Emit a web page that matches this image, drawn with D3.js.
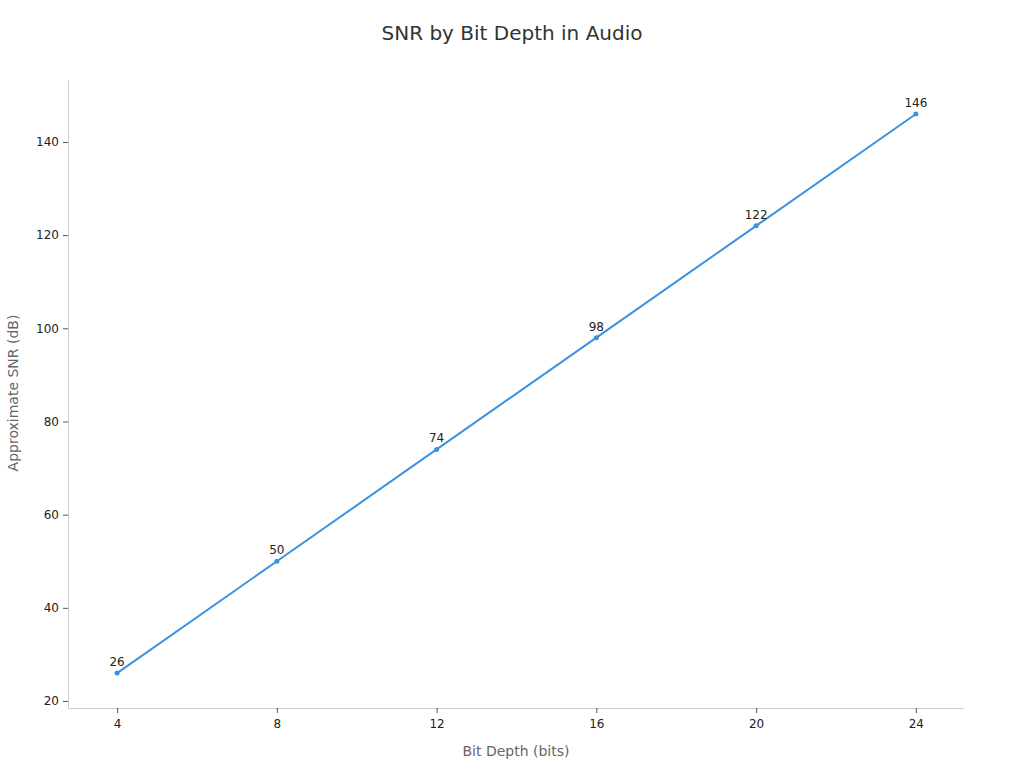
<!DOCTYPE html>
<html>
<head>
<meta charset="utf-8">
<script src="https://cdn.jsdelivr.net/npm/d3@7"></script>
<style>
  body { margin: 0; background: #fff; font-family: "DejaVu Sans", sans-serif; }
</style>
</head>
<body>
<div id="chart"></div>
<script>
"use strict";

// Values.
let bitDepths = [4, 8, 12, 16, 20, 24];
let snrValues = [26, 50, 74, 98, 122, 146];
let xTicks = [4, 8, 12, 16, 20, 24];
let yTicks = [20, 40, 60, 80, 100, 120, 140];

let width = 1024;
let height = 768;
let lineColour = "#3a93e2";

let svg = d3.select("#chart")
  .append("svg")
  .attr("width", width)
  .attr("height", height);

// Plot box edges, the domains carry a bit of padding like the original.
let x = d3.scaleLinear().domain([2.77, 25.18]).range([68, 963]);
let y = d3.scaleLinear().domain([18.5, 153.3]).range([708, 80]);

svg.append("text")
  .attr("x", 512)
  .attr("y", 40)
  .attr("text-anchor", "middle")
  .style("font-size", "20px")
  .style("fill", "#333")
  .text("SNR by Bit Depth in Audio");

// Axes
let xAxis = svg.append("g")
  .attr("transform", "translate(0,708)")
  .call(d3.axisBottom(x).tickValues(xTicks).tickSize(5).tickPadding(6).tickSizeOuter(0));

let yAxis = svg.append("g")
  .attr("transform", "translate(68,0)")
  .call(d3.axisLeft(y).tickValues(yTicks).tickSize(5).tickPadding(4).tickSizeOuter(0));

[xAxis, yAxis].forEach(g => {
  g.select(".domain").attr("stroke", "#ccc");
  g.selectAll(".tick line").attr("stroke", "#555");
  g.selectAll(".tick text")
    .style("font-size", "12px")
    .style("font-family", "DejaVu Sans, sans-serif")
    .attr("fill", "#222");
});

svg.append("text")
  .attr("x", 516)
  .attr("y", 756)
  .attr("text-anchor", "middle")
  .style("font-size", "14px")
  .style("fill", "#666")
  .text("Bit Depth (bits)");

svg.append("text")
  .attr("transform", "translate(18,393) rotate(-90)")
  .attr("text-anchor", "middle")
  .style("font-size", "14px")
  .style("fill", "#666")
  .text("Approximate SNR (dB)");

let points = bitDepths.map((b, i) => ({ bits: b, snr: snrValues[i] }));

let line = d3.line()
  .x(d => x(d.bits))
  .y(d => y(d.snr));

svg.append("path")
  .datum(points)
  .attr("d", line)
  .attr("fill", "none")
  .attr("stroke", lineColour)
  .attr("stroke-width", 2);

svg.selectAll("circle.pt")
  .data(points)
  .enter()
  .append("circle")
  .attr("class", "pt")
  .attr("cx", d => x(d.bits))
  .attr("cy", d => y(d.snr))
  .attr("r", 2.5)
  .attr("fill", lineColour);

svg.selectAll("text.lbl")
  .data(points)
  .enter()
  .append("text")
  .attr("class", "lbl")
  .attr("x", d => x(d.bits))
  .attr("y", d => y(d.snr) - 7)
  .attr("text-anchor", "middle")
  .style("font-size", "12px")
  .style("fill", "#222")
  .text(d => d.snr);
</script>
</body>
</html>
